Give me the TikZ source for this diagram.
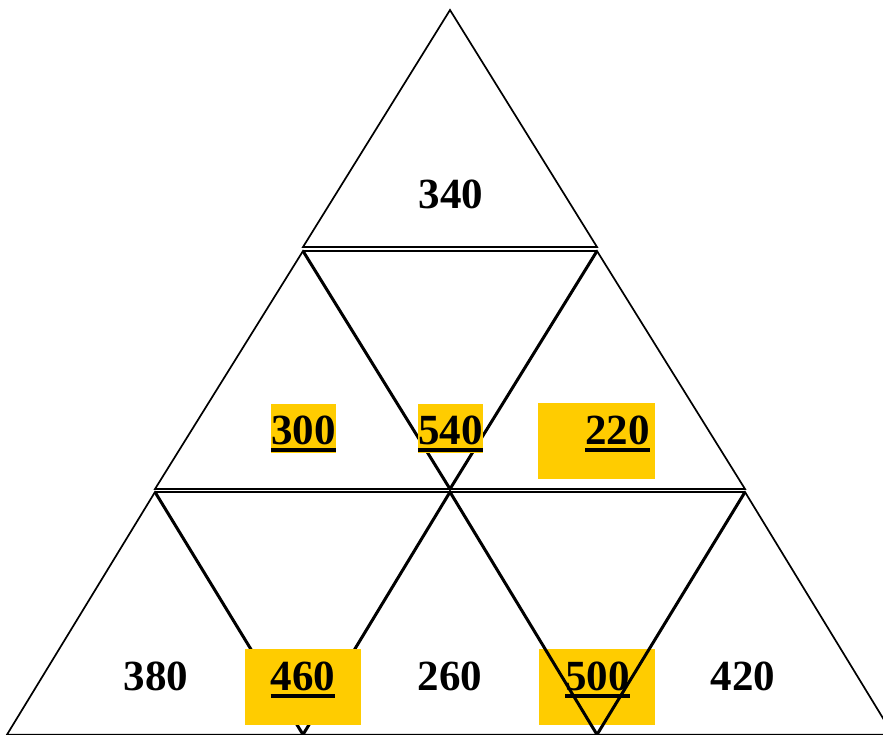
\documentclass[tikz,border=0pt]{standalone}
\usepackage{fontspec}
\setmainfont{Liberation Serif}
\definecolor{PyrGold}{HTML}{FFCC00}
\tikzset{
  thinedge/.style={draw=black,line width=1.7pt,line join=miter},
  invedge/.style={draw=black,line width=3pt,line join=miter},
  cellnum/.style={font=\fontsize{43}{43}\selectfont\bfseries,inner sep=0pt},
  goldbox/.style={fill=PyrGold},
  uline/.style={draw=black,line width=4.5pt}
}
\begin{document}
\begin{tikzpicture}[x=1pt,y=-1pt]
  \useasboundingbox (0,0) rectangle (883,734);

  % corners of the cells
  \coordinate (apex) at (450,10);
  \coordinate (t1l) at (303,247);
  \coordinate (t1r) at (597,247);
  \coordinate (r2l) at (303,251);
  \coordinate (r2r) at (597,251);
  \coordinate (r2tip) at (450,489);
  \coordinate (b2l) at (155,489);
  \coordinate (b2m) at (450,489);
  \coordinate (b2r) at (745,489);
  \coordinate (r3l) at (155,492);
  \coordinate (r3m) at (450,492);
  \coordinate (r3r) at (745,492);
  \coordinate (b3a) at (7,734.6);
  \coordinate (b3b) at (303,734.6);
  \coordinate (b3c) at (597,734.6);
  \coordinate (b3d) at (893,734.6);

  % box under the lines
  \fill[goldbox] (539,649) rectangle (655,725);
  \node[cellnum] (c500) at (597.5,676) {500};
  \draw[uline] ([yshift=-5.5pt]c500.south west) -- ([yshift=-5.5pt]c500.south east);

  % upright cells
  \draw[thinedge] (apex) -- (t1l) -- (t1r) -- cycle;
  \draw[thinedge] (r2l) -- (b2l) -- (b2m) -- cycle;
  \draw[thinedge] (r2r) -- (b2m) -- (b2r) -- cycle;
  \draw[thinedge] (r3l) -- (b3a) -- (b3b) -- cycle;
  \draw[thinedge] (r3m) -- (b3b) -- (b3c) -- cycle;
  \draw[thinedge] (r3r) -- (b3c) -- (b3d) -- cycle;

  % inverted cells
  \draw[thinedge] (r2l) -- (r2r);
  \draw[invedge] (r2l) -- (r2tip) -- (r2r);
  \draw[thinedge] (r3l) -- (r3r);
  \draw[invedge] (r3l) -- (b3b) -- (r3m);
  \draw[invedge] (r3m) -- (b3c) -- (r3r);

  % boxes over the lines
  \fill[goldbox] (271,404) rectangle (336,453);
  \fill[goldbox] (418,404) rectangle (483,453);
  \fill[goldbox] (538,403) rectangle (655,479);
  \fill[goldbox] (245,649) rectangle (361,725);

  \node[cellnum] (c340) at (451,194) {340};
  \node[cellnum] (c300) at (303.5,430) {300};
  \node[cellnum] (c540) at (450.5,430) {540};
  \node[cellnum] (c220) at (617.5,430) {220};
  \node[cellnum] (c380) at (156,676) {380};
  \node[cellnum] (c460) at (303,676) {460};
  \node[cellnum] (c260) at (450,676) {260};
  \node[cellnum] (c420) at (743,676) {420};

  \foreach \n in {c300,c540,c220,c460}
    \draw[uline] ([yshift=-5.5pt]\n.south west) -- ([yshift=-5.5pt]\n.south east);
\end{tikzpicture}
\end{document}
